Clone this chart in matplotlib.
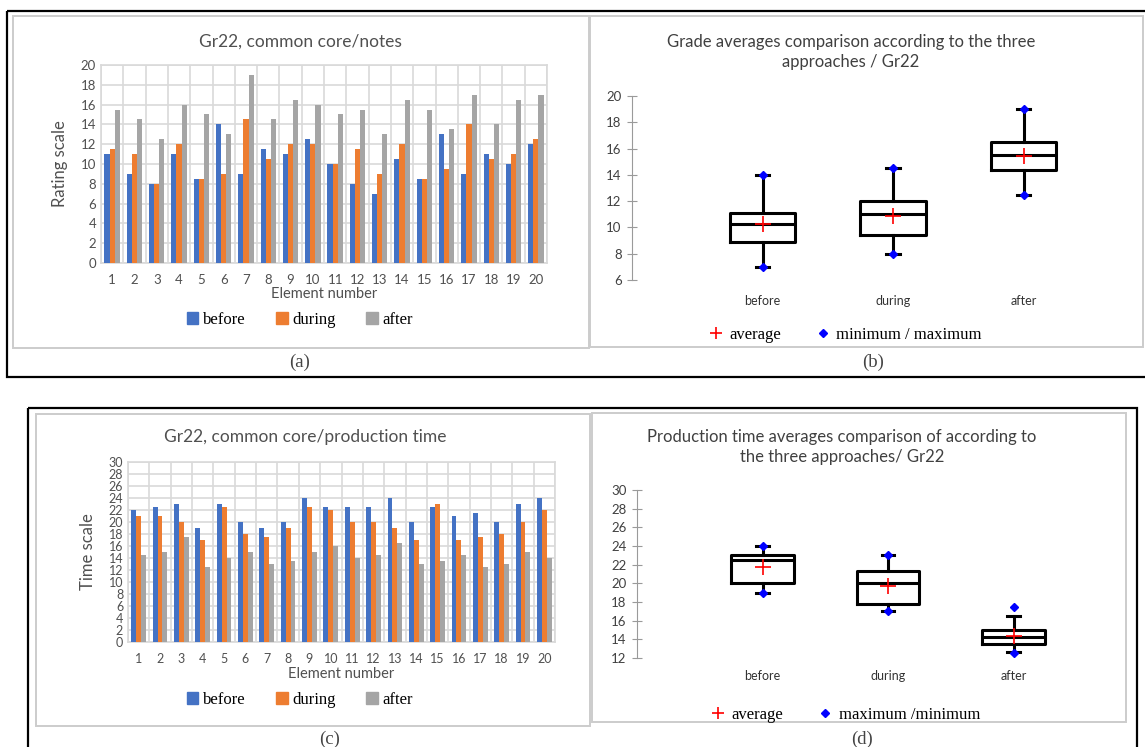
import numpy as np
import matplotlib.pyplot as plt
from matplotlib.patches import Patch, Rectangle
from matplotlib.lines import Line2D

W, H = 1145, 747

elements = list(range(1, 21))
phases = ["before", "during", "after"]
phase_colors = ["#4472C4", "#ED7D31", "#A5A5A5"]

# (a) grades per element
notes_before = [11, 9, 8, 11, 8.5, 14, 9, 11.5, 11, 12.5, 10, 8, 7, 10.5, 8.5, 13, 9, 11, 10, 12]
notes_during = [11.5, 11, 8, 12, 8.5, 9, 14.5, 10.5, 12, 12, 10, 11.5, 9, 12, 8.5, 9.5, 14, 10.5, 11, 12.5]
notes_after = [15.5, 14.5, 12.5, 16, 15, 13, 19, 14.5, 16.5, 16, 15, 15.5, 13, 16.5, 15.5, 13.5, 17, 14, 16.5, 17]

# (c) production time per element
time_before = [22, 22.5, 23, 19, 23, 20, 19, 20, 24, 22.5, 22.5, 22.5, 24, 20, 22.5, 21, 21.5, 20, 23, 24]
time_during = [21, 21, 20, 17, 22.5, 18, 17.5, 19, 22.5, 22, 20, 20, 19, 17, 23, 17, 17.5, 18, 20, 22]
time_after = [14.5, 15, 17.5, 12.5, 14, 15, 13, 13.5, 15, 16, 14, 14.5, 16.5, 13, 13.5, 14.5, 12.5, 13, 15, 14]

# (b) box stats, grades
g_q1 = [8.9, 9.4, 14.4]
g_med = [10.25, 11.0, 15.5]
g_q3 = [11.1, 12.0, 16.5]
g_whislo = [7, 8, 12.5]
g_whishi = [14, 14.5, 19]
g_mean = [10.25, 10.9, 15.4]
g_min = [7, 8, 12.5]
g_max = [14, 14.5, 19]

# (d) box stats, production time
t_q1 = [20.0, 17.8, 13.5]
t_med = [22.5, 20.0, 14.2]
t_q3 = [23.0, 21.3, 15.0]
t_whislo = [19, 17, 12.6]
t_whishi = [24, 23, 16.5]
t_mean = [21.8, 19.7, 14.4]
t_min = [19, 17, 12.5]
t_max = [24, 23, 17.5]

TXT = "#505050"
SANS = ["Lato", "DejaVu Sans"]
SERIF = ["Liberation Serif", "DejaVu Serif"]


def box(l, t, r, b):
    return [l / W, 1 - b / H, (r - l) / W, (b - t) / H]


def bar_panel(ax, series, ymax, ylabel, fs_tick):
    x = np.array(elements)
    w = 0.23
    for i, (vals, c) in enumerate(zip(series, phase_colors)):
        ax.bar(x + (i - 1) * w, vals, w, color=c, zorder=3, label=phases[i])
    ax.set_xlim(0.5, 20.5)
    ax.set_ylim(0, ymax)
    ax.set_xticks(elements)
    ax.set_xticks(np.arange(0.5, 21, 1), minor=True)
    ax.set_yticks(np.arange(0, ymax + 1, 2))
    ax.grid(True, which="minor", axis="x", color="#D9D9D9", lw=1.2, zorder=0)
    ax.grid(True, which="major", axis="y", color="#D9D9D9", lw=1.2, zorder=0)
    ax.tick_params(which="both", length=0, labelsize=fs_tick, labelcolor=TXT)
    ax.tick_params(axis="x", pad=8)
    for s in ax.spines.values():
        s.set_color("#D9D9D9")
        s.set_linewidth(1.2)
    for lab in ax.get_xticklabels() + ax.get_yticklabels():
        lab.set_family(SANS)
    ax.set_xlabel("Element number", fontsize=10.5, color=TXT, family=SANS, labelpad=1)
    ax.set_ylabel(ylabel, fontsize=12, color=TXT, family=SANS, labelpad=9)


def box_panel(ax, lo, q1, med, q3, hi, mean, mn, mx, ylim, xpad):
    stats = []
    for i in range(3):
        stats.append(dict(whislo=lo[i], q1=q1[i], med=med[i], q3=q3[i], whishi=hi[i],
                          mean=mean[i], fliers=[], label=phases[i]))
    lw = 2.2
    ax.bxp(stats, positions=[1, 2, 3], widths=0.5, capwidths=0.1, showmeans=True,
           showfliers=False,
           boxprops=dict(color="black", lw=lw),
           whiskerprops=dict(color="black", lw=lw),
           capprops=dict(color="black", lw=lw),
           medianprops=dict(color="black", lw=lw),
           meanprops=dict(marker="+", markeredgecolor="red", markersize=12, markeredgewidth=1.2))
    pos = [1, 2, 3]
    ax.plot(pos, mn, "D", color="blue", markersize=4.5, ls="none", zorder=5, clip_on=False)
    ax.plot(pos, mx, "D", color="blue", markersize=4.5, ls="none", zorder=5, clip_on=False)
    ax.set_xlim(0, 3.6)
    ax.set_ylim(*ylim)
    ax.set_yticks(np.arange(ylim[0], ylim[1] + 1, 2))
    for s in ["top", "right", "bottom"]:
        ax.spines[s].set_visible(False)
    ax.spines["left"].set_color("#9A9A9A")
    ax.tick_params(axis="y", direction="inout", length=7, color="#9A9A9A",
                   labelsize=9.5, labelcolor="#404040", pad=4)
    ax.tick_params(axis="x", length=0, labelsize=9, labelcolor="#333333", pad=xpad)
    for lab in ax.get_xticklabels() + ax.get_yticklabels():
        lab.set_family(SANS)
    ax.set_facecolor("none")


fig = plt.figure(figsize=(W / 100, H / 100), dpi=100)
bg = fig.add_axes([0, 0, 1, 1])
bg.set_xlim(0, W)
bg.set_ylim(H, 0)
bg.axis("off")

# frames
bg.add_patch(Rectangle((7, 11), 1150, 366, fill=False, ec="black", lw=1.6))
bg.add_patch(Rectangle((28, 408), 1109, 360, fill=False, ec="black", lw=1.6))
for (l, t, r, b) in [(13, 16, 589, 348), (590, 16, 1143, 347), (36, 414, 590, 726), (592, 413, 1126, 722)]:
    bg.add_patch(Rectangle((l, t), r - l, b - t, fill=False, ec="#CCCCCC", lw=1.4))

# panel letters
for lab, x, y in [("(a)", 300, 362), ("(b)", 873, 362), ("(c)", 330, 739), ("(d)", 862, 739)]:
    bg.text(x, y, lab, ha="center", va="center", fontsize=13.5, family=SERIF, color="#444444")

# (a)
ax_a = fig.add_axes(box(101, 65, 547, 263))
bar_panel(ax_a, [notes_before, notes_during, notes_after], 20, "Rating scale", 9.5)
bg.text(300, 42, "Gr22, common core/notes", ha="center", va="center", fontsize=12.5,
        color=TXT, family=SANS)

# (c)
ax_c = fig.add_axes(box(128, 462, 555, 642))
bar_panel(ax_c, [time_before, time_during, time_after], 30, "Time scale", 9)
bg.text(305, 437, "Gr22, common core/production time", ha="center", va="center", fontsize=12.5,
        color=TXT, family=SANS)

# bar legends
for ax, y in [(ax_a, 320), (ax_c, 700)]:
    handles = [Patch(color=c) for c in phase_colors]
    fig.legend(handles, phases, loc="center", bbox_to_anchor=(300 / W, 1 - y / H), ncol=3,
               frameon=False, handlelength=0.7, handleheight=0.7, handletextpad=0.3,
               columnspacing=1.8, prop=dict(family=SERIF, size=12))

# (b)
ax_b = fig.add_axes(box(632, 96, 632 + 130.5 * 3.6, 280))
box_panel(ax_b, g_whislo, g_q1, g_med, g_q3, g_whishi, g_mean, g_min, g_max, (6, 20), 11)
bg.text(851, 52, "Grade averages comparison according to the three\napproaches / Gr22",
        ha="center", va="center", fontsize=12, color="#404040", family=SANS, linespacing=1.3)

# (d)
ax_d = fig.add_axes(box(637, 490, 637 + 125.5 * 3.6, 658))
box_panel(ax_d, t_whislo, t_q1, t_med, t_q3, t_whishi, t_mean, t_min, t_max, (12, 30), 9)
bg.text(842, 447, "Production time averages comparison of according to\nthe three approaches/ Gr22",
        ha="center", va="center", fontsize=12, color="#404040", family=SANS, linespacing=1.3)

# box legends
for y, lab2 in [(335, "minimum / maximum"), (715, "maximum /minimum")]:
    handles = [Line2D([], [], marker="+", color="red", ls="none", markersize=9, markeredgewidth=1.2),
               Line2D([], [], marker="D", color="blue", ls="none", markersize=4)]
    fig.legend(handles, ["average", lab2], loc="center", bbox_to_anchor=(845 / W, 1 - y / H),
               ncol=2, frameon=False, handlelength=1.0, handletextpad=0.3, columnspacing=2.0,
               prop=dict(family=SERIF, size=12))

fig.savefig("out.png", dpi=100)
